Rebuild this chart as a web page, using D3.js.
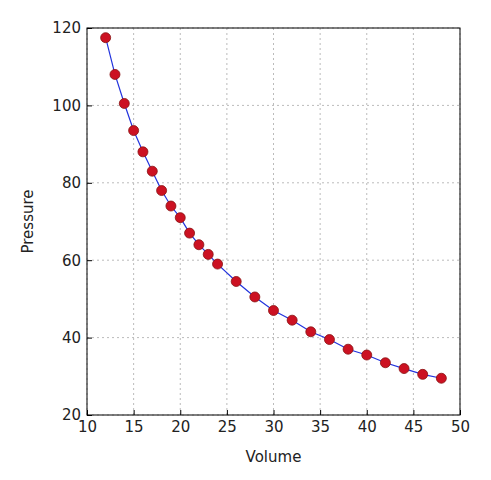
<!DOCTYPE html>
<html><head><meta charset="utf-8">
<script src="https://cdn.jsdelivr.net/npm/d3@7"></script>
<style>body{margin:0;background:#fff}</style></head>
<body><svg id="c" width="491" height="480"></svg>
<script>
const volume=[12,13,14,15,16,17,18,19,20,21,22,23,24,26,28,30,32,34,36,38,40,42,44,46,48];
const pressure=[117.5,108,100.5,93.5,88,83,78,74,71,67,64,61.5,59,54.5,50.5,47,44.5,41.5,39.5,37,35.5,33.5,32,30.5,29.5];
const xTicks=[10,15,20,25,30,35,40,45,50];
const yTicks=[20,40,60,80,100,120];
const svg=d3.select("#c");
const L=87,R=460,T=28,B=415;
const x=d3.scaleLinear().domain([10,50]).range([L,R]);
const y=d3.scaleLinear().domain([20,120]).range([B,T]);
const g=svg.append("g");
xTicks.forEach(t=>g.append("line").attr("x1",x(t)).attr("x2",x(t)).attr("y1",T).attr("y2",B).attr("stroke","#bbb").attr("stroke-dasharray","2,3"));
yTicks.forEach(t=>g.append("line").attr("y1",y(t)).attr("y2",y(t)).attr("x1",L).attr("x2",R).attr("stroke","#bbb").attr("stroke-dasharray","2,3"));
svg.append("g").attr("transform",`translate(0,${B})`).call(d3.axisBottom(x).tickValues(xTicks).tickSize(-5).tickPadding(6))
 .call(a=>{a.select(".domain").remove();a.selectAll("text").attr("font-size",15).attr("font-family","DejaVu Sans").attr("fill","#222");});
svg.append("g").attr("transform",`translate(${L},0)`).call(d3.axisLeft(y).tickValues(yTicks).tickSize(-5).tickPadding(6))
 .call(a=>{a.select(".domain").remove();a.selectAll("text").attr("font-size",15).attr("font-family","DejaVu Sans").attr("fill","#222");});
svg.append("rect").attr("x",L).attr("y",T).attr("width",R-L).attr("height",B-T).attr("fill","none").attr("stroke","#000");
const pts=volume.map((v,i)=>[v,pressure[i]]);
svg.append("path").datum(pts).attr("d",d3.line().x(d=>x(d[0])).y(d=>y(d[1]))).attr("fill","none").attr("stroke","#2233dd").attr("stroke-width",1.2);
svg.selectAll("circle.p").data(pts).join("circle").attr("cx",d=>x(d[0])).attr("cy",d=>y(d[1])).attr("r",5).attr("fill","#cc1122").attr("stroke","#881111").attr("stroke-width",0.8);
svg.append("text").attr("x",(L+R)/2).attr("y",462).attr("text-anchor","middle").attr("font-size",15).attr("font-family","DejaVu Sans").attr("fill","#222").text("Volume");
svg.append("text").attr("transform",`translate(33,${(T+B)/2}) rotate(-90)`).attr("text-anchor","middle").attr("font-size",15).attr("font-family","DejaVu Sans").attr("fill","#222").text("Pressure");
</script></body></html>
